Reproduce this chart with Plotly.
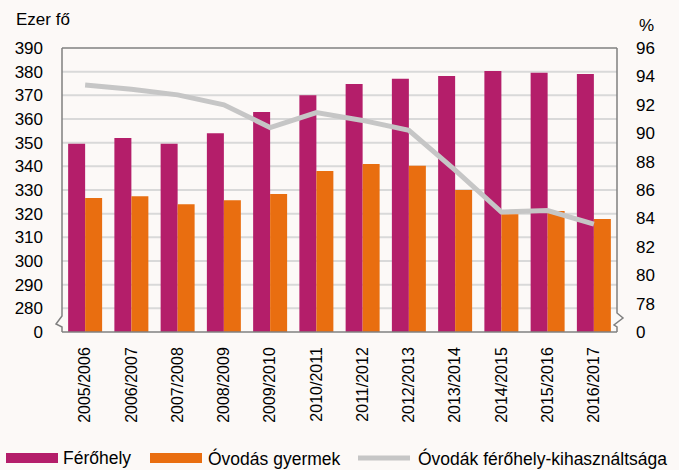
import plotly.graph_objects as go

years = ["2005/2006", "2006/2007", "2007/2008", "2008/2009", "2009/2010", "2010/2011",
         "2011/2012", "2012/2013", "2013/2014", "2014/2015", "2015/2016", "2016/2017"]
ferohely = [349.5, 352.0, 349.5, 354.0, 363.0, 370.0, 374.8, 377.0, 378.2, 380.3, 379.5, 379.0]
gyermek = [326.6, 327.4, 324.0, 325.7, 328.3, 338.0, 341.0, 340.2, 330.0, 319.8, 321.1, 317.7]
kihasznaltsag = [93.4, 93.1, 92.7, 92.0, 90.4, 91.45, 90.9, 90.2, 87.4, 84.45, 84.55, 83.6]

left_ticks = [270, 280, 290, 300, 310, 320, 330, 340, 350, 360, 370, 380, 390]
left_text = ["0"] + [str(v) for v in left_ticks[1:]]
right_ticks = [76, 78, 80, 82, 84, 86, 88, 90, 92, 94, 96]
right_text = ["0"] + [str(v) for v in right_ticks[1:]]

C_F = "#b41e6a"
C_O = "#e96e10"
C_L = "#c6c6c6"
BG = "#fcf9f7"
AX = "#808080"
FONT = "Liberation Sans, Arial, sans-serif"

W, H = 679, 470
L, R, T, B = 62, 617, 48, 332


def px(x):
    return (x - L) / (R - L)


def py(y):
    return (B - y) / (B - T)


fig = go.Figure()
fig.add_trace(go.Bar(x=years, y=ferohely, name="Férőhely", marker_color=C_F,
                     marker_line_width=0, showlegend=False))
fig.add_trace(go.Bar(x=years, y=gyermek, name="Óvodás gyermek", marker_color=C_O,
                     marker_line_width=0, showlegend=False))
fig.add_trace(go.Scatter(x=years, y=kihasznaltsag, name="Óvodák férőhely-kihasználtsága",
                         mode="lines", line=dict(color=C_L, width=5), yaxis="y2",
                         showlegend=False))

shapes = []
for v in left_ticks[1:-1]:
    shapes.append(dict(type="line", xref="paper", yref="y", x0=0, x1=1, y0=v, y1=v,
                       line=dict(color="#d9d9d9", width=2), layer="below"))
ln = dict(color=AX, width=1.5)
shapes.append(dict(type="line", xref="paper", yref="paper", x0=0, x1=1, y0=1, y1=1, line=ln))
shapes.append(dict(type="line", xref="paper", yref="paper", x0=0, x1=1, y0=0, y1=0, line=ln))
shapes.append(dict(type="path", xref="paper", yref="paper",
                   path=f"M {px(62)},{py(48)} L {px(62)},{py(316)} L {px(56)},{py(324)} L {px(62)},{py(327)} L {px(62)},{py(332)}",
                   line=ln))
shapes.append(dict(type="path", xref="paper", yref="paper",
                   path=f"M {px(617)},{py(48)} L {px(617)},{py(313)} L {px(623)},{py(318)} L {px(614)},{py(325)} L {px(617)},{py(327)} L {px(617)},{py(332)}",
                   line=ln))
shapes.append(dict(type="rect", xref="paper", yref="paper", x0=px(6), x1=px(58),
                   y0=py(463), y1=py(453), fillcolor=C_F, line_width=0))
shapes.append(dict(type="rect", xref="paper", yref="paper", x0=px(150), x1=px(202),
                   y0=py(463), y1=py(453), fillcolor=C_O, line_width=0))
shapes.append(dict(type="line", xref="paper", yref="paper", x0=px(358), x1=px(410),
                   y0=py(458), y1=py(458), line=dict(color=C_L, width=5)))

annotations = [
    dict(text="Férőhely", x=px(61), y=py(458), xref="paper", yref="paper",
         xanchor="left", yanchor="middle", showarrow=False, font=dict(size=17.5, color="#000")),
    dict(text="Óvodás gyermek", x=px(206), y=py(458), xref="paper", yref="paper",
         xanchor="left", yanchor="middle", showarrow=False, font=dict(size=17.5, color="#000")),
    dict(text="Óvodák férőhely-kihasználtsága", x=px(416), y=py(458), xref="paper", yref="paper",
         xanchor="left", yanchor="middle", showarrow=False, font=dict(size=17.5, color="#000")),
    dict(text="Ezer fő", x=px(14), y=py(20), xref="paper", yref="paper",
         xanchor="left", yanchor="middle", showarrow=False, font=dict(size=17, color="#000")),
    dict(text="%", x=px(637), y=py(25), xref="paper", yref="paper",
         xanchor="left", yanchor="middle", showarrow=False, font=dict(size=17, color="#000")),
]

fig.update_layout(
    width=W, height=H,
    margin=dict(l=L, r=W - R, t=T, b=H - B, pad=0),
    paper_bgcolor=BG, plot_bgcolor=BG,
    font=dict(family=FONT, size=17, color="#000"),
    barmode="group", bargap=0.265, bargroupgap=0,
    showlegend=False,
    shapes=shapes, annotations=annotations,
    xaxis=dict(type="category", tickangle=-90, showgrid=False, showline=False,
               ticks="", ticklabelstandoff=11, tickfont=dict(size=16)),
    yaxis=dict(range=[270, 390], tickvals=left_ticks, ticktext=left_text,
               showgrid=False, zeroline=False, showline=False, ticks="",
               ticklabelstandoff=18, tickfont=dict(size=17)),
    yaxis2=dict(range=[76, 96], tickvals=right_ticks, ticktext=right_text,
                overlaying="y", side="right", showgrid=False, zeroline=False,
                showline=False, ticks="", ticklabelstandoff=18, tickfont=dict(size=17)),
)

fig.write_html("out.html", config={"displayModeBar": False},
               post_script="document.body.style.margin='0';document.body.style.background='" + BG + "';")
